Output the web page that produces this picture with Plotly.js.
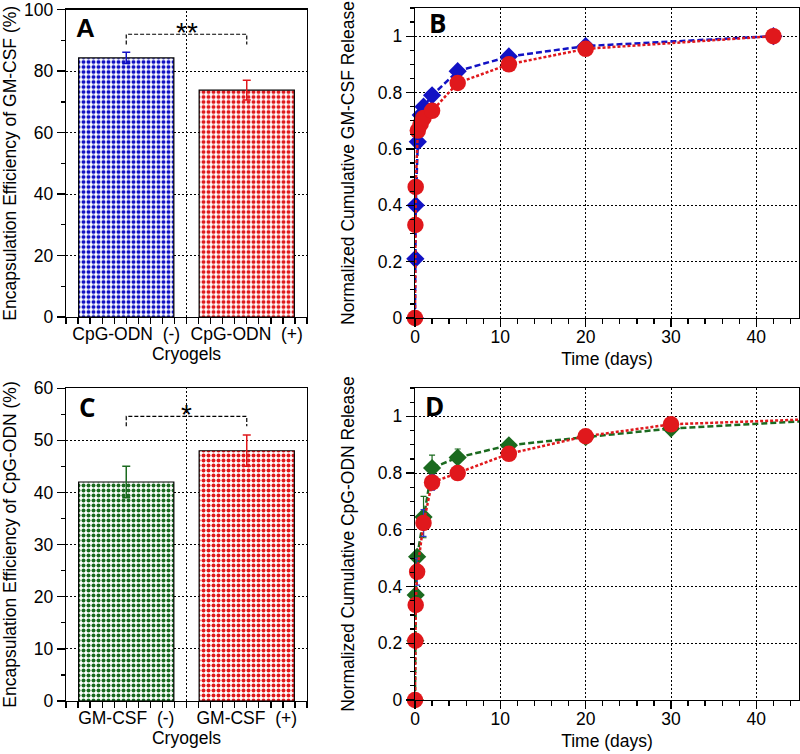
<!DOCTYPE html>
<html>
<head>
<meta charset="utf-8">
<script src="https://cdn.plot.ly/plotly-3.0.1.min.js"></script>
<style>html,body{margin:0;padding:0;background:#fff}#chart{width:800px;height:754px}</style>
</head>
<body>
<div id="chart"></div>
<script>
// ---- Data ----
const barCatsA = ['CpG-ODN\u00a0 (-)', 'CpG-ODN\u00a0 (+)'];
const barValsA = [84.3, 73.8];
const barErrA = [1.8, 3.2];
const bracketA = [88.7, 92.0];

const barCatsC = ['GM-CSF\u00a0 (-)', 'GM-CSF\u00a0 (+)'];
const barValsC = [42.0, 48.0];
const barErrC = [3.0, 3.0];
const bracketC = [52.7, 54.6];

const timeB = [0, 0.042, 0.083, 0.33, 0.67, 1, 2, 5, 11, 20, 42];
const gmcsfNoCpG = [0, 0.21, 0.40, 0.625, 0.72, 0.75, 0.79, 0.876, 0.928, 0.965, 1.0];
const gmcsfWithCpG = [0, 0.33, 0.465, 0.665, 0.69, 0.71, 0.735, 0.834, 0.90, 0.955, 1.0];

const timeD = [0, 0.042, 0.083, 0.25, 1, 2, 5, 11, 20, 30, 56];
const cpgNoGM = [0, 0.209, 0.37, 0.505, 0.645, 0.818, 0.855, 0.898, 0.927, 0.957, 1.0];
const cpgNoGMErr = [0, 0, 0, 0, 0.073, 0.045, 0.03, 0.01, 0.01, 0.01, 0];
const cpgWithGM = [0, 0.209, 0.335, 0.452, 0.624, 0.767, 0.80, 0.868, 0.93, 0.972, 1.0];
const cpgWithGMErr = [0, 0, 0, 0.047, 0.047, 0.027, 0.01, 0.01, 0.01, 0.01, 0];

const yTicksRel = [0, 0.2, 0.4, 0.6, 0.8, 1];
const yTickTextRel = ['0', '0.2', '0.4', '0.6', '0.8', '1'];
const yTicksA = [0, 20, 40, 60, 80, 100];
const yTicksC = [0, 10, 20, 30, 40, 50, 60];

// ---- Styles ----
const BLUE = '#1212c4', RED = '#e0181c', GREEN = '#1b6a1f', ERRBLUE = '#2a3cc8';
const FONT = 'Liberation Sans, Arial, sans-serif';
const GRIDDASH = '2px,2px';

function patt(c) {
  return {shape: '.', fgcolor: c, bgcolor: 'white', size: 5, solidity: 0.5};
}

const traces = [
  {type: 'bar', x: [0], y: [barValsA[0]], xaxis: 'x', yaxis: 'y', width: 0.79,
   marker: {color: 'white', pattern: patt(BLUE), line: {color: '#000', width: 1.2}},
   error_y: {type: 'data', array: [barErrA[0]], color: BLUE, thickness: 1.5, width: 4}},
  {type: 'bar', x: [1], y: [barValsA[1]], xaxis: 'x', yaxis: 'y', width: 0.79,
   marker: {color: 'white', pattern: patt(RED), line: {color: '#000', width: 1.2}},
   error_y: {type: 'data', array: [barErrA[1]], color: RED, thickness: 1.5, width: 4}},
  {type: 'bar', x: [0], y: [barValsC[0]], xaxis: 'x3', yaxis: 'y3', width: 0.79,
   marker: {color: 'white', pattern: patt(GREEN), line: {color: '#000', width: 1.2}},
   error_y: {type: 'data', array: [barErrC[0]], color: GREEN, thickness: 1.5, width: 4}},
  {type: 'bar', x: [1], y: [barValsC[1]], xaxis: 'x3', yaxis: 'y3', width: 0.79,
   marker: {color: 'white', pattern: patt(RED), line: {color: '#000', width: 1.2}},
   error_y: {type: 'data', array: [barErrC[1]], color: RED, thickness: 1.5, width: 4}},

  {type: 'scatter', mode: 'lines+markers', x: timeB, y: gmcsfNoCpG, xaxis: 'x2', yaxis: 'y2', cliponaxis: false,
   line: {color: BLUE, width: 2.5, dash: '6px,3px'},
   marker: {symbol: 'diamond', size: 14, color: BLUE}},
  {type: 'scatter', mode: 'lines+markers', x: timeB, y: gmcsfWithCpG, xaxis: 'x2', yaxis: 'y2', cliponaxis: false,
   line: {color: RED, width: 2.5, dash: '3px,2px'},
   marker: {symbol: 'circle', size: 16.5, color: RED}},

  {type: 'scatter', mode: 'lines+markers', x: timeD, y: cpgNoGM, xaxis: 'x4', yaxis: 'y4', cliponaxis: false,
   line: {color: GREEN, width: 2.5, dash: '6px,3px'},
   marker: {symbol: 'diamond', size: 14, color: GREEN},
   error_y: {type: 'data', array: cpgNoGMErr, color: GREEN, thickness: 1.2, width: 3}},
  {type: 'scatter', mode: 'lines+markers', x: timeD, y: cpgWithGM, xaxis: 'x4', yaxis: 'y4', cliponaxis: false,
   line: {color: RED, width: 2.5, dash: '3px,2px'},
   marker: {symbol: 'circle', size: 16.5, color: RED},
   error_y: {type: 'data', array: cpgWithGMErr, color: ERRBLUE, thickness: 1.2, width: 3}}
];

const tickFont = {family: FONT, size: 17.5, color: '#000'};
const titleFont = {family: FONT, size: 17.5, color: '#000'};
const common = {
  showline: true, linecolor: '#000', linewidth: 1.3, mirror: true,
  ticks: 'outside', ticklen: 8, tickwidth: 1.3, tickcolor: '#000',
  showgrid: true, gridcolor: '#000', gridwidth: 1, griddash: GRIDDASH,
  zeroline: false, automargin: false, tickfont: tickFont, fixedrange: true,
  ticklabeloverflow: 'allow'
};
const xDomL = [66/800, 307/800], xDomR = [415/800, 799/800];
const yDomA = [1-317/754, 1-9.5/754], yDomB = [1-318/754, 1-8/754];
const yDomC = [1-701/754, 1-388/754], yDomD = [1-700/754, 1-388/754];

function catAxis(dom, cats, anchor) {
  return Object.assign({}, common, {
    domain: dom, anchor: anchor, range: [-0.5, 1.5], tickvals: [0, 1], ticktext: cats,
    showgrid: false, ticklen: 6, ticklabelstandoff: -5,
    minor: {dtick: 0.1, tick0: -0.5, ticks: 'outside', ticklen: 6, tickwidth: 1.3, tickcolor: '#000', showgrid: false},
    title: {text: 'Cryogels', font: titleFont, standoff: 4}
  });
}
function timeAxis(dom, anchor) {
  return Object.assign({}, common, {
    domain: dom, anchor: anchor, range: [0, 45], dtick: 10, tick0: 0, ticklabelstandoff: -5,
    minor: {dtick: 2, ticks: 'outside', ticklen: 5, tickwidth: 1.3, tickcolor: '#000', showgrid: false},
    title: {text: 'Time (days)', font: titleFont, standoff: 6}
  });
}
function relAxis(dom, anchor, title) {
  return Object.assign({}, common, {
    domain: dom, anchor: anchor, range: [0, 1.1], tickvals: yTicksRel, ticktext: yTickTextRel,
    minor: {dtick: 0.05, ticks: 'outside', ticklen: 4, tickwidth: 1.3, tickcolor: '#000', showgrid: false},
    title: {text: title, font: titleFont, standoff: 18}
  });
}

function bracket(xa, ya, b) {
  return {type: 'path', xref: xa, yref: ya,
    path: `M 0,${b[0]} L 0,${b[1]} L 1,${b[1]} L 1,${b[0]}`,
    line: {color: '#000', width: 1.2, dash: '4px,2px'}};
}
function midGrid(xa, ya) {
  return {type: 'line', xref: xa, yref: ya + ' domain', x0: 0.5, x1: 0.5, y0: 0, y1: 1,
    line: {color: '#000', width: 1, dash: GRIDDASH}, layer: 'below'};
}

const layout = {
  width: 800, height: 754, margin: {l: 0, r: 0, t: 0, b: 0},
  paper_bgcolor: '#fff', plot_bgcolor: '#fff', showlegend: false,
  font: {family: FONT, color: '#000'}, barmode: 'overlay',
  xaxis: catAxis(xDomL, barCatsA, 'y'),
  yaxis: Object.assign({}, common, {domain: yDomA, anchor: 'x', range: [0, 100.05], tickvals: yTicksA,
    minor: {dtick: 10, ticks: 'outside', ticklen: 4, tickwidth: 1.3, tickcolor: '#000', showgrid: false},
    title: {text: 'Encapsulation Efficiency of GM-CSF (%)', font: titleFont, standoff: 12}}),
  xaxis2: timeAxis(xDomR, 'y2'),
  yaxis2: relAxis(yDomB, 'x2', 'Normalized Cumulative GM-CSF Release'),
  xaxis3: catAxis(xDomL, barCatsC, 'y3'),
  yaxis3: Object.assign({}, common, {domain: yDomC, anchor: 'x3', range: [0, 60.03], tickvals: yTicksC,
    minor: {dtick: 5, ticks: 'outside', ticklen: 4, tickwidth: 1.3, tickcolor: '#000', showgrid: false},
    title: {text: 'Encapsulation Efficiency of CpG-ODN (%)', font: titleFont, standoff: 12}}),
  xaxis4: timeAxis(xDomR, 'y4'),
  yaxis4: relAxis(yDomD, 'x4', 'Normalized Cumulative CpG-ODN Release'),
  shapes: [midGrid('x', 'y'), midGrid('x3', 'y3'), bracket('x', 'y', bracketA), bracket('x3', 'y3', bracketC)],
  annotations: [
    {text: '<b>A</b>', xref: 'paper', yref: 'paper', x: 85/800, y: 1-28/754, showarrow: false,
     font: {family: FONT, size: 26, color: '#000'}, xanchor: 'center', yanchor: 'middle'},
    {text: '<b>B</b>', xref: 'paper', yref: 'paper', x: 437/800, y: 1-23/754, showarrow: false,
     font: {family: 'Open Sans, sans-serif', size: 26, color: '#000'}, xanchor: 'center', yanchor: 'middle'},
    {text: '<b>C</b>', xref: 'paper', yref: 'paper', x: 87/800, y: 1-407/754, showarrow: false,
     font: {family: 'Open Sans, sans-serif', size: 26, color: '#000'}, xanchor: 'center', yanchor: 'middle'},
    {text: '<b>D</b>', xref: 'paper', yref: 'paper', x: 435/800, y: 1-406/754, showarrow: false,
     font: {family: 'Open Sans, sans-serif', size: 26, color: '#000'}, xanchor: 'center', yanchor: 'middle'},
    {text: '**', xref: 'x', yref: 'y', x: 0.5, y: bracketA[1], yshift: 2, showarrow: false,
     font: {family: FONT, size: 28, color: '#000'}, xanchor: 'center', yanchor: 'middle'},
    {text: '*', xref: 'x3', yref: 'y3', x: 0.5, y: bracketC[1], yshift: 2, showarrow: false,
     font: {family: FONT, size: 28, color: '#000'}, xanchor: 'center', yanchor: 'middle'}
  ]
};

Plotly.newPlot('chart', traces, layout, {staticPlot: true, displayModeBar: false});
</script>
</body>
</html>
